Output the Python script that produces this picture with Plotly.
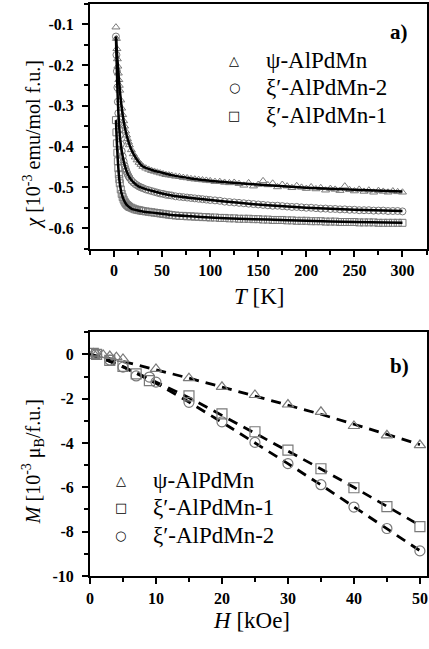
import plotly.graph_objects as go

# ---------------- panel a): susceptibility vs temperature ----------------
T_data = [2, 2.5, 3, 3.5, 4, 4.5, 5, 5.5, 6, 7, 8, 9, 10, 11, 12, 13, 14, 15, 16, 18,
          20, 22, 24, 26, 28, 30, 33, 36, 39, 42, 45, 48, 51, 54, 57, 60, 64, 68, 72, 76,
          80, 84, 88, 92, 96, 100, 105, 110, 115, 120, 125, 130, 135, 140, 145, 150, 155,
          160, 165, 170, 175, 180, 185, 190, 195, 200, 205, 210, 215, 220, 225, 230, 235,
          240, 245, 250, 255, 260, 265, 270, 275, 280, 285, 290, 295, 300]

chi_psi = [-0.107, -0.135, -0.160, -0.185, -0.203, -0.220, -0.236, -0.250, -0.262, -0.286,
           -0.306, -0.322, -0.337, -0.350, -0.362, -0.372, -0.381, -0.389, -0.396, -0.408,
           -0.418, -0.426, -0.433, -0.439, -0.444, -0.449, -0.453, -0.456, -0.459, -0.461,
           -0.463, -0.465, -0.467, -0.469, -0.470, -0.471, -0.473, -0.474, -0.476, -0.477,
           -0.479, -0.480, -0.481, -0.482, -0.483, -0.484, -0.486, -0.486, -0.488, -0.489,
           -0.488, -0.491, -0.495, -0.489, -0.497, -0.493, -0.484, -0.494, -0.490, -0.499,
           -0.493, -0.497, -0.501, -0.496, -0.500, -0.503, -0.499, -0.504, -0.501, -0.507,
           -0.503, -0.505, -0.508, -0.497, -0.506, -0.509, -0.505, -0.510, -0.507, -0.512,
           -0.508, -0.510, -0.512, -0.509, -0.511, -0.512]

chi_xi2 = [-0.130, -0.175, -0.215, -0.255, -0.290, -0.318, -0.340, -0.357, -0.372, -0.394,
           -0.411, -0.424, -0.436, -0.446, -0.454, -0.461, -0.467, -0.472, -0.476, -0.483,
           -0.488, -0.492, -0.495, -0.498, -0.500, -0.502, -0.505, -0.507, -0.509, -0.511,
           -0.513, -0.515, -0.516, -0.518, -0.519, -0.520, -0.522, -0.523, -0.524, -0.525,
           -0.526, -0.527, -0.528, -0.529, -0.530, -0.531, -0.532, -0.533, -0.535, -0.536,
           -0.537, -0.538, -0.539, -0.540, -0.541, -0.542, -0.543, -0.544, -0.545, -0.545,
           -0.546, -0.547, -0.548, -0.548, -0.549, -0.550, -0.550, -0.551, -0.552, -0.552,
           -0.553, -0.553, -0.554, -0.554, -0.555, -0.555, -0.556, -0.556, -0.556, -0.557,
           -0.557, -0.557, -0.558, -0.558, -0.558, -0.559]

chi_xi1 = [-0.335, -0.365, -0.392, -0.415, -0.436, -0.453, -0.468, -0.480, -0.490, -0.505,
           -0.516, -0.524, -0.530, -0.535, -0.539, -0.542, -0.544, -0.546, -0.548, -0.550,
           -0.552, -0.554, -0.555, -0.556, -0.557, -0.558, -0.559, -0.560, -0.561, -0.562,
           -0.563, -0.564, -0.565, -0.566, -0.567, -0.568, -0.569, -0.570, -0.570, -0.571,
           -0.571, -0.572, -0.572, -0.573, -0.573, -0.574, -0.574, -0.575, -0.575, -0.576,
           -0.576, -0.577, -0.577, -0.577, -0.578, -0.578, -0.579, -0.579, -0.580, -0.580,
           -0.580, -0.581, -0.581, -0.582, -0.582, -0.582, -0.583, -0.583, -0.583, -0.584,
           -0.584, -0.584, -0.585, -0.585, -0.585, -0.585, -0.586, -0.586, -0.586, -0.586,
           -0.587, -0.587, -0.587, -0.587, -0.587, -0.587]

# fitted curves (solid lines)
T_fit = [2, 2.5, 3, 3.5, 4, 5, 6, 7, 8, 10, 12, 14, 16, 18, 20, 25, 30, 40, 50, 60, 80,
         100, 130, 160, 200, 250, 300]
fit_psi = [-0.130, -0.150, -0.168, -0.185, -0.200, -0.232, -0.260, -0.284, -0.304, -0.337,
           -0.361, -0.380, -0.395, -0.407, -0.417, -0.436, -0.449, -0.458, -0.464, -0.470,
           -0.478, -0.484, -0.490, -0.495, -0.501, -0.506, -0.510]
fit_xi2 = [-0.130, -0.175, -0.215, -0.255, -0.289, -0.339, -0.371, -0.393, -0.410, -0.435,
           -0.453, -0.466, -0.475, -0.482, -0.487, -0.497, -0.502, -0.509, -0.515, -0.520,
           -0.526, -0.531, -0.538, -0.544, -0.550, -0.555, -0.558]
fit_xi1 = [-0.335, -0.365, -0.392, -0.415, -0.436, -0.468, -0.490, -0.505, -0.516, -0.530,
           -0.539, -0.545, -0.549, -0.552, -0.554, -0.557, -0.559, -0.562, -0.565, -0.568,
           -0.571, -0.574, -0.577, -0.579, -0.582, -0.585, -0.587]

T_ticks = [0, 50, 100, 150, 200, 250, 300]
T_tick_text = ["0", "50", "100", "150", "200", "250", "300"]
chi_ticks = [-0.1, -0.2, -0.3, -0.4, -0.5, -0.6]
chi_tick_text = ["-0.1", "-0.2", "-0.3", "-0.4", "-0.5", "-0.6"]

# ---------------- panel b): magnetization vs field ----------------
H_psi = [0.5, 1, 2, 3, 4, 5, 10, 15, 20, 25, 30, 35, 40, 45, 50]
M_psi = [0.05, 0.0, -0.02, -0.07, -0.12, -0.20, -0.65, -1.07, -1.46, -1.83, -2.26, -2.59,
         -3.23, -3.65, -4.09]
H_xi1 = [0.5, 1, 3, 5, 7, 9, 15, 20, 25, 30, 35, 40, 45, 50]
M_xi1 = [0.05, 0.0, -0.27, -0.54, -0.88, -1.18, -1.87, -2.68, -3.49, -4.32, -5.16, -6.02,
         -6.87, -7.77]
H_xi2 = [1, 3, 5, 7, 9, 10, 15, 20, 25, 30, 35, 40, 45, 50]
M_xi2 = [0.0, -0.25, -0.57, -0.97, -1.02, -1.25, -2.16, -3.04, -3.97, -4.93, -5.88, -6.89,
         -7.86, -8.87]

H_fit = [0, 2.5, 5, 7.5, 10, 12.5, 15, 20, 25, 30, 35, 40, 45, 50]
Mfit_psi = [0.0, -0.15, -0.32, -0.50, -0.68, -0.87, -1.07, -1.47, -1.87, -2.28, -2.70,
            -3.15, -3.60, -4.07]
Mfit_xi1 = [0.0, -0.25, -0.55, -0.90, -1.25, -1.60, -1.95, -2.75, -3.55, -4.36, -5.17,
            -6.00, -6.86, -7.72]
Mfit_xi2 = [0.0, -0.25, -0.56, -0.92, -1.30, -1.72, -2.15, -3.06, -3.98, -4.93, -5.89,
            -6.87, -7.86, -8.86]

H_ticks = [0, 10, 20, 30, 40, 50]
H_tick_text = ["0", "10", "20", "30", "40", "50"]
M_ticks = [0, -2, -4, -6, -8, -10]
M_tick_text = ["0", "-2", "-4", "-6", "-8", "-10"]

labels_a = ["\u03c8-AlPdMn", "\u03be\u2032-AlPdMn-2", "\u03be\u2032-AlPdMn-1"]
labels_b = ["\u03c8-AlPdMn", "\u03be\u2032-AlPdMn-1", "\u03be\u2032-AlPdMn-2"]

# ---------------- styling ----------------
W, H = 429, 649
SERIF = "Liberation Serif"
GREY = "#7a7a7a"


def fx(p):
    return p / W


def fy(p):
    return 1 - p / H


def bold(labels):
    return ["<b>" + s + "</b>" for s in labels]


fig = go.Figure()

# panel a markers
for ys, sym in [(chi_psi, "triangle-up-open"), (chi_xi2, "circle-open"),
                (chi_xi1, "square-open")]:
    fig.add_trace(go.Scatter(x=T_data, y=ys, mode="markers", xaxis="x", yaxis="y",
                             marker=dict(symbol=sym, size=7, color=GREY,
                                         line=dict(width=1, color=GREY)),
                             showlegend=False, hoverinfo="skip"))
# panel a fits
for ys in [fit_psi, fit_xi2, fit_xi1]:
    fig.add_trace(go.Scatter(x=T_fit, y=ys, mode="lines", xaxis="x", yaxis="y",
                             line=dict(color="black", width=2.5, shape="spline",
                                       smoothing=0.6),
                             showlegend=False, hoverinfo="skip"))

# panel b fits
for ys in [Mfit_psi, Mfit_xi1, Mfit_xi2]:
    fig.add_trace(go.Scatter(x=H_fit, y=ys, mode="lines", xaxis="x2", yaxis="y2",
                             line=dict(color="black", width=2.8, dash="10px,7px"),
                             showlegend=False, hoverinfo="skip"))
# panel b markers
for xs, ys, sym in [(H_psi, M_psi, "triangle-up-open"), (H_xi1, M_xi1, "square-open"),
                    (H_xi2, M_xi2, "circle-open")]:
    fig.add_trace(go.Scatter(x=xs, y=ys, mode="markers", xaxis="x2", yaxis="y2",
                             marker=dict(symbol=sym, size=10, color=GREY,
                                         line=dict(width=1.2, color=GREY)),
                             showlegend=False, hoverinfo="skip"))

tickfont = dict(family=SERIF, size=16, color="black", weight="bold")
common = dict(showline=True, linewidth=2, linecolor="black", mirror=True,
              ticks="outside", ticklen=6, tickwidth=2, tickcolor="black",
              tickmode="array", showgrid=False, zeroline=False, tickfont=tickfont)
minor_style = dict(ticks="outside", ticklen=4, tickwidth=1.5, tickcolor="black",
                   tickmode="linear", tick0=0)

xdom = [fx(87), fx(427.5)]
fig.update_layout(
    width=W, height=H, margin=dict(l=0, r=0, t=0, b=0),
    paper_bgcolor="white", plot_bgcolor="white",
    xaxis=dict(domain=xdom, anchor="y", range=[-25, 325], tickvals=T_ticks,
               ticktext=bold(T_tick_text), ticklabelstandoff=0,
               minor=dict(dtick=25, **minor_style), **common),
    yaxis=dict(domain=[fy(252), fy(4)], anchor="x", range=[-0.65, -0.05],
               tickvals=chi_ticks, ticktext=bold(chi_tick_text), ticklabelstandoff=5,
               minor=dict(dtick=0.05, **minor_style), **common),
    xaxis2=dict(domain=xdom, anchor="y2", range=[0, 51], tickvals=H_ticks,
                ticktext=bold(H_tick_text), ticklabelstandoff=1,
                minor=dict(dtick=5, **minor_style), **common),
    yaxis2=dict(domain=[fy(584), fy(337)], anchor="x2", range=[-10, 1],
                tickvals=M_ticks, ticktext=bold(M_tick_text), ticklabelstandoff=5,
                minor=dict(dtick=1, **minor_style), **common),
)

ann = []


def text(x, y, s, size=20, angle=0, xanchor="center", heavy=False, family=SERIF):
    ann.append(dict(x=fx(x), y=fy(y), xref="paper", yref="paper", text=s,
                    showarrow=False, xanchor=xanchor, yanchor="middle",
                    textangle=angle,
                    font=dict(family=family, size=size, color="black",
                              weight="bold" if heavy else "normal")))


# axis titles
text(258, 301, "<i>T</i> [K]", size=23)
text(29, 146, "<i>\u03c7</i> [10<sup>-3</sup> emu/mol f.u.]", size=20, angle=-90)
text(250, 629, "<i>H</i> [kOe]", size=23)
text(29, 468, "<i>M</i> [10<sup>-3</sup> \u03bc<sub>B</sub>/f.u.]", size=20, angle=-90)

# panel tags
text(400, 32, "a)", size=21, heavy=True)
text(400, 371, "b)", size=21, heavy=True)

# legends
glyph = {"tri": "\u25b3", "cir": "\u25cb", "sq": "\u25a1"}
for i, (g, lab) in enumerate(zip(["tri", "cir", "sq"], labels_a)):
    yy = 61 + 28 * i
    text(233, yy, glyph[g], size=13, family="DejaVu Sans")
    text(263, yy, lab, size=23, xanchor="left")
for i, (g, lab) in enumerate(zip(["tri", "sq", "cir"], labels_b)):
    yy = 487 + 28 * i
    text(118, yy, glyph[g], size=13, family="DejaVu Sans")
    text(149, yy, lab, size=23, xanchor="left")

fig.update_layout(annotations=ann)
fig.write_html("out.html")
